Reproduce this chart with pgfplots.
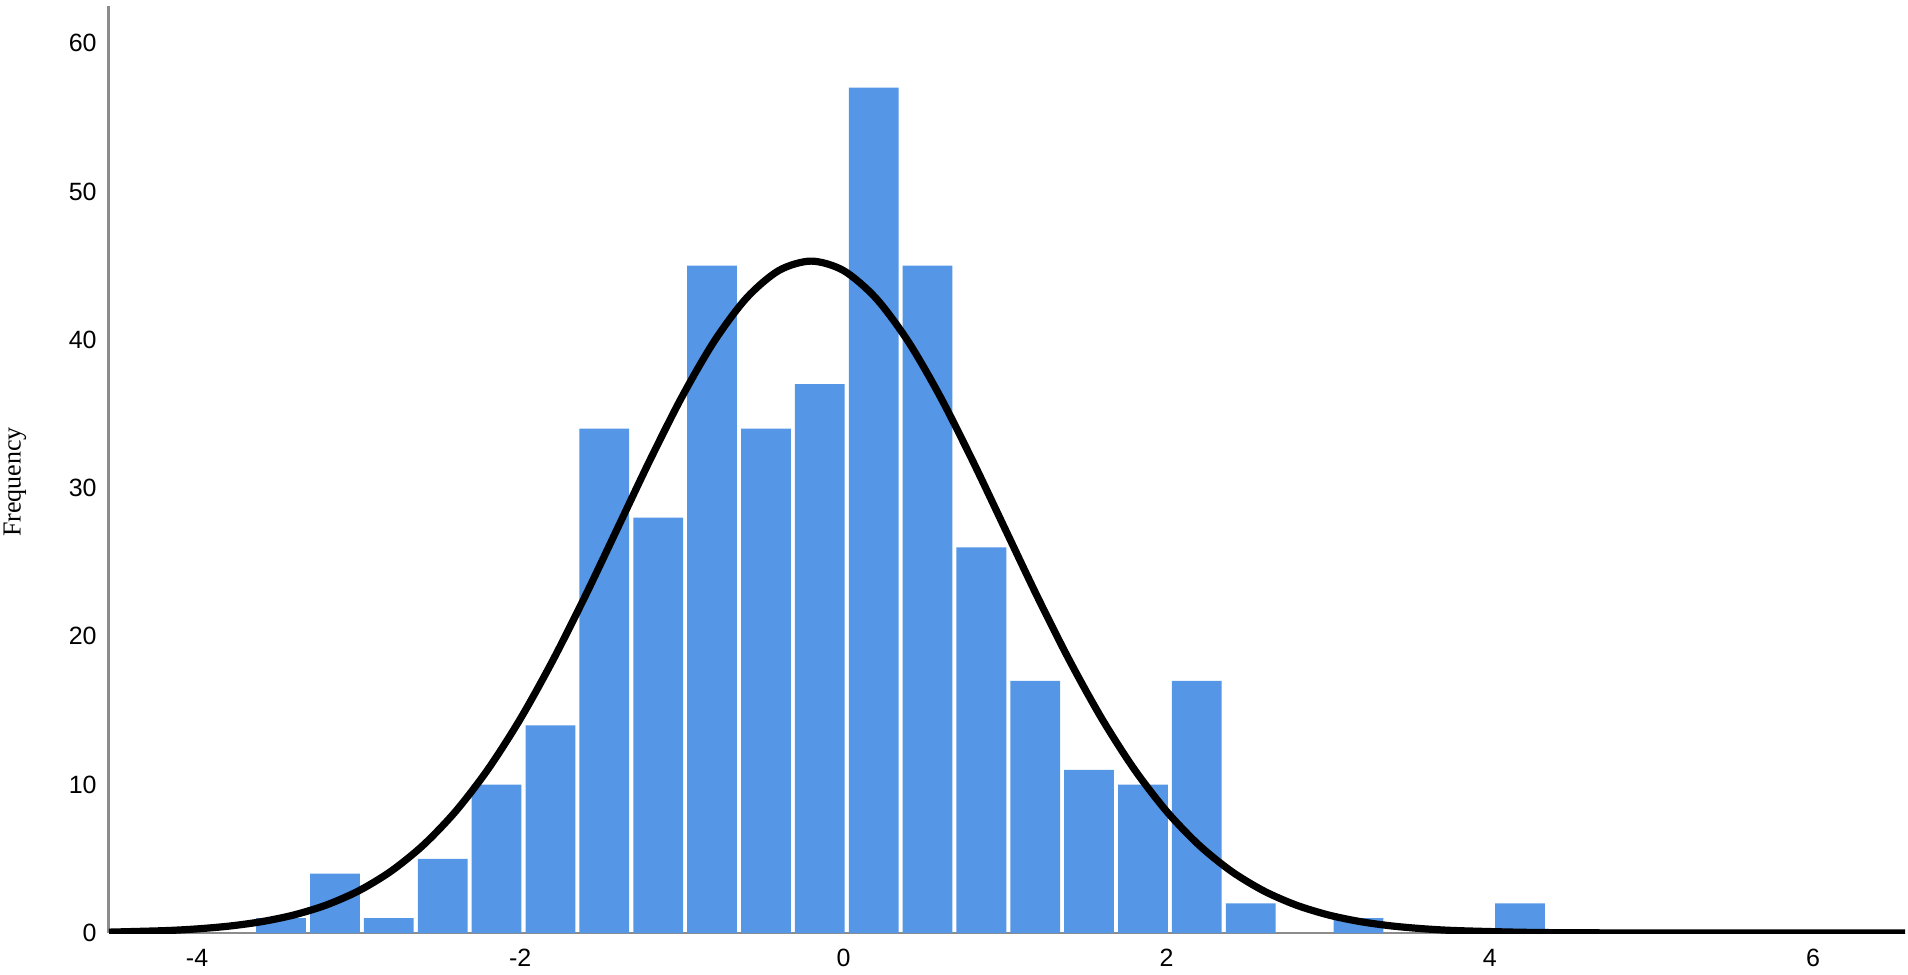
\documentclass[border=0pt]{standalone}
\usepackage{pgfplots}
\pgfplotsset{compat=1.18}
\usepackage{fontspec}
\setmainfont{Liberation Sans}
\newfontfamily\serifl{Liberation Serif}
\definecolor{barblue}{RGB}{85,150,230}
\definecolor{axgray}{RGB}{140,140,140}
\begin{document}
\begin{tikzpicture}
\begin{axis}[
  name=ax,
  scale only axis,
  width=898pt, height=463.5pt,
  xmin=-4.545, xmax=6.569,
  ymin=0, ymax=62.5,
  axis x line=bottom, axis y line=left,
  axis line style={axgray, -},
  x axis line style={line width=1pt},
  y axis line style={line width=1.5pt},
  xtick={-4,-2,0,2,4,6},
  xticklabels={-4,-2,0,2,4,6},
  ytick={0,10,20,30,40,50,60},
  yticklabels={0,10,20,30,40,50,60},
  major tick length=0pt,
  tick label style={font=\fontsize{12.5}{14}\selectfont, inner sep=0pt},
  xticklabel style={anchor=north, yshift=-8pt},
  yticklabel style={anchor=east, xshift=-6pt},
  ylabel={Frequency},
  ylabel style={font=\serifl\fontsize{13}{15}\selectfont, at={(axis description cs:0,0.4865)}, anchor=center, yshift=47pt, inner sep=0pt},
  bar width=0.308,
]
\addplot[ybar, fill=barblue, draw=none] coordinates {
(-3.4800,1) (-3.1467,4) (-2.8133,1) (-2.4800,5) (-2.1467,10) (-1.8133,14)
(-1.4800,34) (-1.1467,28) (-0.8133,45) (-0.4800,34) (-0.1467,37) (0.1867,57)
(0.5200,45) (0.8533,26) (1.1867,17) (1.5200,11) (1.8533,10) (2.1867,17)
(2.5200,2) (3.1867,1) (4.1867,2)
};
\addplot[black, line width=3.6pt, smooth, line join=round] coordinates {
(-4.545,0.058) (-4.2,0.160) (-4.0,0.277) (-3.8,0.467) (-3.6,0.765) (-3.4,1.219)
(-3.2,1.888) (-3.0,2.843) (-2.8,4.164) (-2.6,5.928) (-2.4,8.201) (-2.2,11.034)
(-2.0,14.430) (-1.8,18.348) (-1.6,22.674) (-1.4,27.246) (-1.2,31.824) (-1.0,36.139)
(-0.8,39.893) (-0.6,42.812) (-0.4,44.665) (-0.2,45.3) (0.0,44.665) (0.2,42.812)
(0.4,39.893) (0.6,36.139) (0.8,31.824) (1.0,27.246) (1.2,22.674) (1.4,18.348)
(1.6,14.430) (1.8,11.034) (2.0,8.201) (2.2,5.928) (2.4,4.164) (2.6,2.843)
(2.8,1.888) (3.0,1.219) (3.2,0.765) (3.4,0.467) (3.6,0.277) (3.8,0.160)
(4.2,0.049) (4.6,0.013) (5.4,0.001) (6.569,0.0)
};
\end{axis}
\pgfresetboundingbox
\path ([xshift=-54.5pt,yshift=-20.5pt]ax.south west) rectangle ([xshift=1.5pt,yshift=3pt]ax.north east);
\end{tikzpicture}
\end{document}
